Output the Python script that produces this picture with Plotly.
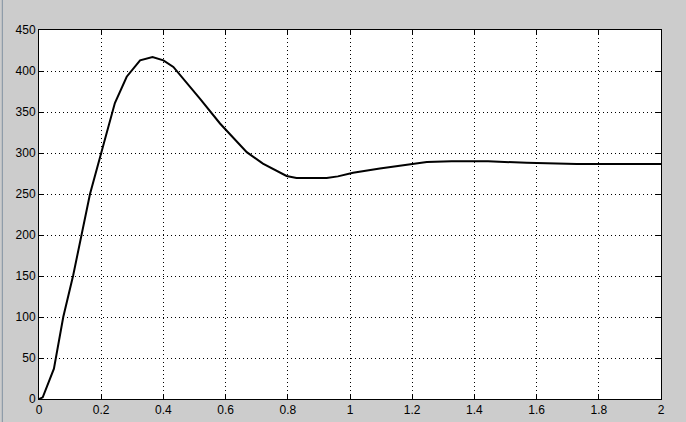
import plotly.graph_objects as go

time_s = [0, 0.012, 0.048, 0.078, 0.11, 0.137, 0.164, 0.2, 0.244, 0.282, 0.325, 0.365, 0.4,
          0.432, 0.47, 0.518, 0.582, 0.625, 0.668, 0.72, 0.796, 0.828, 0.925, 0.961, 1.01,
          1.096, 1.203, 1.247, 1.327, 1.444, 1.568, 1.729, 2.0]
response = [0, 2, 37, 100, 151, 202, 250, 300, 361, 393, 413, 417, 413,
            405, 388, 366, 336, 318, 301, 287, 272, 269.5, 269.5, 271.5, 276,
            281, 287, 289, 290, 290, 288, 286.6, 286.6]

x_ticks = [0, 0.2, 0.4, 0.6, 0.8, 1, 1.2, 1.4, 1.6, 1.8, 2]
x_tick_labels = ["0", "0.2", "0.4", "0.6", "0.8", "1", "1.2", "1.4", "1.6", "1.8", "2"]
y_ticks = [0, 50, 100, 150, 200, 250, 300, 350, 400, 450]
y_tick_labels = ["0", "50", "100", "150", "200", "250", "300", "350", "400", "450"]

fig = go.Figure()
fig.add_trace(go.Scatter(x=time_s, y=response, mode="lines",
                         line=dict(color="black", width=2), showlegend=False,
                         hoverinfo="skip"))

axis_common = dict(
    showline=True, linecolor="black", linewidth=1, mirror="allticks",
    ticks="inside", ticklen=5, tickcolor="black", tickwidth=1,
    showgrid=True, gridcolor="black", gridwidth=1, griddash="1px,3px",
    zeroline=False, automargin=False,
    tickfont=dict(family="Liberation Sans Narrow, Liberation Sans, Arial, sans-serif", size=12, color="black"),
)

fig.update_xaxes(range=[0, 2], tickmode="array", tickvals=x_ticks, ticktext=x_tick_labels,
                 **axis_common)
fig.update_yaxes(range=[0, 450], tickmode="array", tickvals=y_ticks, ticktext=y_tick_labels,
                 **axis_common)

fig.update_layout(
    width=686, height=422, autosize=False,
    margin=dict(l=39, r=25, t=30, b=23, pad=0),
    paper_bgcolor="#cccccc", plot_bgcolor="white",
    shapes=[dict(type="line", xref="paper", yref="paper",
                 x0=-0.059, x1=-0.059, y0=-0.07, y1=1.09,
                 line=dict(color="#8090a0", width=1))],
)

fig.write_html("out.html",
               config={"displayModeBar": False, "responsive": False},
               post_script="document.body.style.margin='0';document.body.style.background='#cccccc';")
